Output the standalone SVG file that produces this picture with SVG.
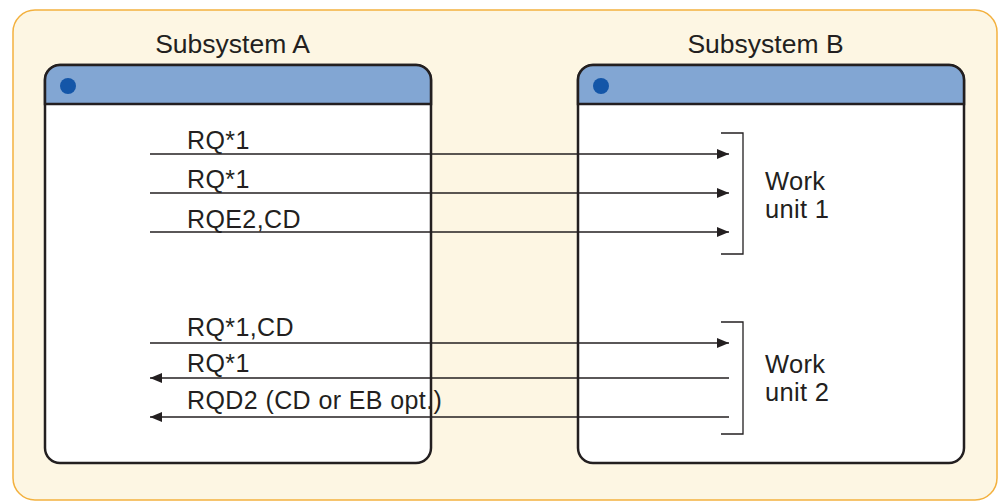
<svg xmlns="http://www.w3.org/2000/svg" width="999" height="502" viewBox="0 0 999 502">
<style>
text{font-family:"Liberation Sans",Arial,sans-serif;fill:#231f20}
.title{font-size:26.5px;text-anchor:middle}
.lbl{font-size:25px;letter-spacing:0.4px}
.wu{font-size:25.5px;letter-spacing:0.3px}
.box{fill:#fff;stroke:#231f20;stroke-width:2.5}
.hdr{fill:#82a6d3;stroke:#231f20;stroke-width:2.5}
.dot{fill:#1456a8}
.msg{stroke:#231f20;stroke-width:1.3;fill:none}
.br{stroke:#231f20;stroke-width:1.3;fill:none}
</style>
<defs>
<marker id="ah" viewBox="0 0 12 10" refX="12" refY="5" markerWidth="12" markerHeight="10" markerUnits="userSpaceOnUse" orient="auto">
<path d="M0,0 L12,5 L0,10 Z" fill="#231f20"/>
</marker>
</defs>
<rect x="13" y="10" width="984" height="490" rx="22" fill="#fdf6e3" stroke="#f3b13f" stroke-width="1.5"/>
<g id="subsystemA">
<text class="title" x="232.5" y="53">Subsystem A</text>
<rect class="box" x="45" y="65" width="386" height="398" rx="15"/>
<path class="hdr" d="M45,104 V80 A15,15 0 0 1 60,65 H416 A15,15 0 0 1 431,80 V104 Z"/>
<circle class="dot" cx="68" cy="86" r="8"/>
</g>
<g id="subsystemB">
<text class="title" x="765.5" y="53">Subsystem B</text>
<rect class="box" x="578" y="65" width="386" height="398" rx="15"/>
<path class="hdr" d="M578,104 V80 A15,15 0 0 1 593,65 H949 A15,15 0 0 1 964,80 V104 Z"/>
<circle class="dot" cx="601" cy="86" r="8"/>
</g>
<g id="workunit1">
<path class="br" d="M721,133 H743 V254 H721"/>
<text class="wu" x="765" y="190">Work</text>
<text class="wu" x="765" y="218">unit 1</text>
</g>
<g id="workunit2">
<path class="br" d="M721,322 H743 V434 H721"/>
<text class="wu" x="765" y="373">Work</text>
<text class="wu" x="765" y="401">unit 2</text>
</g>
<g id="connectors">
<line class="msg" x1="150" y1="154" x2="729" y2="154" marker-end="url(#ah)"/>
<line class="msg" x1="150" y1="193" x2="729" y2="193" marker-end="url(#ah)"/>
<line class="msg" x1="150" y1="232" x2="729" y2="232" marker-end="url(#ah)"/>
<line class="msg" x1="150" y1="343" x2="729" y2="343" marker-end="url(#ah)"/>
<line class="msg" x1="729" y1="378" x2="150" y2="378" marker-end="url(#ah)"/>
<line class="msg" x1="729" y1="417" x2="150" y2="417" marker-end="url(#ah)"/>
<text class="lbl" x="187" y="149">RQ*1</text>
<text class="lbl" x="187" y="188">RQ*1</text>
<text class="lbl" x="187" y="228">RQE2,CD</text>
<text class="lbl" x="187" y="336">RQ*1,CD</text>
<text class="lbl" x="187" y="372">RQ*1</text>
<text class="lbl" x="187" y="409">RQD2 (CD or EB opt.)</text>
</g>
</svg>
